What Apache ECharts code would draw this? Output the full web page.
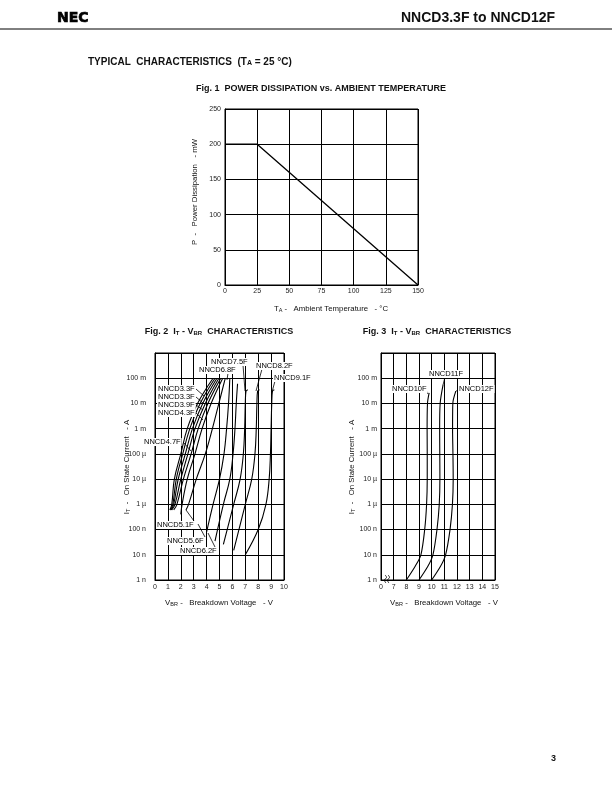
<!DOCTYPE html>
<html><head><meta charset="utf-8">
<script src="https://cdn.jsdelivr.net/npm/echarts@6/dist/echarts.min.js"></script>
<style>html,body{margin:0;padding:0;background:#fff}#c{width:612px;height:792px}</style>
</head><body><div id="c"></div>
<script>
// ---------- DATA ----------
// Fig.1 power derating
const fig1Temp  = [0, 25, 150];
const fig1Power = [200, 200, 0];
// current tick labels (1 n ... 1 A)
const currentTickLabels = ['1 n','10 n','100 n','1 \u00b5','10 \u00b5','100 \u00b5','1 m','10 m','100 m',''];
const fig3XTickLabels = ['0','7','8','9','10','11','12','13','14','15'];

// Fig.2 curves [V, A]
const nncd3_3F = [[1.15,6e-7],[1.3,1e-6],[1.5,1e-5],[2.0,1e-4],[2.5,1e-3],[3.3,1e-2],[4.5,1e-1]];
const nncd3_6F = [[1.2,6e-7],[1.38,1e-6],[1.65,1e-5],[2.15,1e-4],[2.7,1e-3],[3.5,1e-2],[4.65,1e-1]];
const nncd3_9F = [[1.25,6e-7],[1.45,1e-6],[1.8,1e-5],[2.35,1e-4],[2.9,1e-3],[3.7,1e-2],[4.8,1e-1]];
const nncd4_3F = [[1.3,6e-7],[1.55,1e-6],[2.0,1e-5],[2.55,1e-4],[3.1,1e-3],[3.9,1e-2],[4.95,1e-1]];
const nncd4_7F = [[1.45,6e-7],[1.7,1e-6],[2.2,1e-5],[2.8,1e-4],[3.35,1e-3],[4.1,1e-2],[5.1,1e-1]];
const nncd5_1F = [[2.0,4e-7],[2.1,1e-6],[2.5,1e-5],[3.1,1e-4],[3.65,1e-3],[4.35,1e-2],[5.25,1e-1]];
const nncd5_6F = [[2.4,6e-7],[2.6,1e-6],[3.2,1e-5],[3.9,1e-4],[4.45,1e-3],[4.95,1e-2],[5.45,1e-1]];
const nncd6_2F = [[4.0,8e-8],[4.5,1e-6],[5.0,1e-5],[5.35,1e-4],[5.55,1e-3],[5.7,1e-2],[5.8,1e-1]];
const nncd6_8F = [[4.65,3.5e-8],[5.3,1e-6],[5.8,1e-5],[6.05,1e-4],[6.2,1e-3],[6.3,1e-2],[6.4,6e-2]];
const nncd7_5F = [[5.3,2.6e-8],[6.1,1e-6],[6.6,1e-5],[6.85,1e-4],[6.95,1e-3],[7.0,1e-2],[7.05,3e-2],[7.2,3.5e-2]];
const nncd8_2F = [[6.1,1.5e-8],[7.0,1e-6],[7.5,1e-5],[7.75,1e-4],[7.85,1e-3],[7.9,1e-2],[7.95,3e-2],[8.1,3.5e-2]];
const nncd9_1F = [[7.0,1e-8],[8.0,1e-7],[8.6,1e-6],[8.85,1e-5],[8.95,1e-4],[9.0,1e-3],[9.05,1e-2],[9.1,3e-2],[9.25,3.5e-2]];
// Fig.3 curves [V, A]
const nncd10F = [[8.0,1e-9],[8.7,3.5e-9],[9.15,1e-8],[9.45,1e-7],[9.6,1e-6],[9.65,1e-5],[9.65,1e-4],[9.64,1e-3],[9.67,1e-2],[9.8,2.6e-2]];
const nncd11F = [[9.0,1e-9],[9.7,3.5e-9],[10.1,1e-8],[10.42,1e-7],[10.6,1e-6],[10.65,1e-5],[10.64,1e-4],[10.63,1e-3],[10.67,1e-2],[10.9,5.5e-2]];
const nncd12F = [[10.0,1e-9],[10.7,3.5e-9],[11.1,1e-8],[11.45,1e-7],[11.64,1e-6],[11.7,1e-5],[11.68,1e-4],[11.65,1e-3],[11.67,1e-2],[11.9,3e-2]];

const fig2Curves = {'NNCD3.3F':nncd3_3F,'NNCD3.6F':nncd3_6F,'NNCD3.9F':nncd3_9F,'NNCD4.3F':nncd4_3F,
  'NNCD4.7F':nncd4_7F,'NNCD5.1F':nncd5_1F,'NNCD5.6F':nncd5_6F,'NNCD6.2F':nncd6_2F,'NNCD6.8F':nncd6_8F,
  'NNCD7.5F':nncd7_5F,'NNCD8.2F':nncd8_2F,'NNCD9.1F':nncd9_1F};
const fig3Curves = {'NNCD10F':nncd10F,'NNCD11F':nncd11F,'NNCD12F':nncd12F};

// ---------- CHART ----------
const FONT = '"Liberation Sans", Arial, Helvetica, sans-serif';
const chart = echarts.init(document.getElementById('c'), null, {renderer:'canvas'});
const lab = (m) => ({fontSize:7, color:'#222', fontFamily:FONT, margin:m});
const split = {show:true, lineStyle:{color:'#000', width:1}};
const axLine = {show:true, lineStyle:{color:'#000', width:1}};
const logLabel = (v) => currentTickLabels[Math.round(Math.log10(v)) + 9] || '';

const series = [{type:'line', xAxisIndex:0, yAxisIndex:0, data:fig1Temp.map((t,i)=>[t,fig1Power[i]]),
  symbol:'none', lineStyle:{color:'#000', width:1.3}, z:3}];
Object.keys(fig2Curves).forEach(k => series.push({type:'line', name:k, xAxisIndex:1, yAxisIndex:1,
  data:fig2Curves[k], smooth:0.4, symbol:'none', lineStyle:{color:'#000', width:1.1}, z:3}));
Object.keys(fig3Curves).forEach(k => series.push({type:'line', name:k, xAxisIndex:2, yAxisIndex:2,
  data:fig3Curves[k], smooth:0.3, symbol:'none', lineStyle:{color:'#000', width:1.1}, z:3}));

const txt = (x, y, text, o) => Object.assign({type:'text', x, y, z:50, style:Object.assign({text, font:'7px '+FONT, fill:'#111',
  align:'left', verticalAlign:'middle', textAlign:'left', textVerticalAlign:'middle'}, o||{})});
const curveLab = (x, y, text) => txt(x, y, text, {font:'7.5px '+FONT, fill:'#000', backgroundColor:'#fff', padding:[0,1,0,1]});
const leader = (x1,y1,x2,y2) => ({type:'line', z:49, shape:{x1,y1,x2,y2}, style:{stroke:'#000', lineWidth:0.8}});
const sub = {a:{font:'7.8px '+FONT, fill:'#111'}, s:{font:'5.5px '+FONT, fill:'#111', padding:[3,0,0,0]}};
const rname = (x, y, text) => ({type:'text', x, y, rotation:Math.PI/2, z:50,
  style:{text, x:0, y:0, align:'center', verticalAlign:'middle', textAlign:'center', textVerticalAlign:'middle', rich:sub, font:'7.8px '+FONT}});
const hname = (x, y, text) => ({type:'text', x, y, z:50,
  style:{text, x:0, y:0, align:'center', verticalAlign:'middle', textAlign:'center', textVerticalAlign:'middle', rich:sub, font:'7.8px '+FONT}});
const btitle = (x, y, text) => ({type:'text', x, y, z:50, style:{text, x:0, y:0, align:'center', textAlign:'center', verticalAlign:'middle', textVerticalAlign:'middle',
    rich:{b:{font:'bold 9px '+FONT, fill:'#111'}, bs:{font:'bold 6px '+FONT, fill:'#111', padding:[3,0,0,0]}}}});

const graphic = [
  txt(57, 18, 'NEC', {font:'bold 14px "DejaVu Sans", '+FONT, fill:'#000', stroke:'#000', lineWidth:0.7}),
  txt(555, 18, 'NNCD3.3F to NNCD12F', {font:'bold 14px '+FONT, fill:'#111', align:'right', textAlign:'right'}),
  {type:'line', shape:{x1:0, y1:29, x2:612, y2:29}, style:{stroke:'#000', lineWidth:1}},
  {type:'text', x:88, y:62, z:50, style:{text:'{b|TYPICAL  CHARACTERISTICS  (T}{bs|A}{b| = 25 \u00b0C)}', x:0, y:0, verticalAlign:'middle', textVerticalAlign:'middle',
    rich:{b:{font:'bold 10px '+FONT, fill:'#111'}, bs:{font:'bold 7px '+FONT, fill:'#111', padding:[3,0,0,0]}}}},
  btitle(321, 89, '{b|Fig. 1  POWER DISSIPATION vs. AMBIENT TEMPERATURE}'),
  btitle(219, 332, '{b|Fig. 2  I}{bs|T}{b| - V}{bs|BR}{b|  CHARACTERISTICS}'),
  btitle(437, 332, '{b|Fig. 3  I}{bs|T}{b| - V}{bs|BR}{b|  CHARACTERISTICS}'),
  rname(195, 192, '{a|P  -   Power Dissipation   - mW}'),
  hname(331, 309, '{a|T}{s|A}{a| -   Ambient Temperature   - \u00b0C}'),
  rname(127, 467, '{a|I}{s|T}{a|  -   On State Current   - A}'),
  hname(219, 603, '{a|V}{s|BR}{a| -   Breakdown Voltage   - V}'),
  rname(352, 467, '{a|I}{s|T}{a|  -   On State Current   - A}'),
  hname(444, 603, '{a|V}{s|BR}{a| -   Breakdown Voltage   - V}'),
  txt(551, 759, '3', {font:'bold 9px '+FONT, fill:'#111'}),
  // fig 2 curve labels
  curveLab(157, 389, 'NNCD3.3F'), curveLab(157, 397, 'NNCD3.3F'), curveLab(157, 405, 'NNCD3.9F'), curveLab(157, 413, 'NNCD4.3F'),
  curveLab(143, 442, 'NNCD4.7F'), curveLab(156, 525, 'NNCD5.1F'), curveLab(166, 541, 'NNCD5.6F'), curveLab(179, 551, 'NNCD6.2F'),
  curveLab(198, 370, 'NNCD6.8F'), curveLab(210, 362, 'NNCD7.5F'), curveLab(255, 366, 'NNCD8.2F'), curveLab(273, 378, 'NNCD9.1F'),
  leader(196,389,204,396), leader(196,397,203,403), leader(196,405,203,410), leader(196,413,203,420),
  leader(184,443,191,451), leader(194,521,186,510), leader(205,537,198,524), leader(215,547,208,533),
  leader(228,373,227,380), leader(243,365,245,391), leader(262,369,256,391), leader(275,381,272,392),
  // fig 3 labels
  curveLab(391, 389, 'NNCD10F'), curveLab(428, 374, 'NNCD11F'), curveLab(458, 389, 'NNCD12F'),
  leader(426,390,428,394), leader(445,377,443,385), leader(459,389,455,392),
  // axis break
  {type:'polyline', z:51, shape:{points:[[385,575],[386.5,577.5],[384.5,580],[386,583]], smooth:0.5}, style:{stroke:'#000', lineWidth:0.8, fill:null}},
  {type:'polyline', z:51, shape:{points:[[388,575],[389.5,577.5],[387.5,580],[389,583]], smooth:0.5}, style:{stroke:'#000', lineWidth:0.8, fill:null}}
];

chart.setOption({
  animation:false,
  backgroundColor:'#fff',
  grid:[
    {left:225, top:109, width:193, height:176, show:true, borderColor:'#000', borderWidth:1},
    {left:155, top:353, width:129, height:227, show:true, borderColor:'#000', borderWidth:1},
    {left:381, top:353, width:114, height:227, show:true, borderColor:'#000', borderWidth:1}
  ],
  xAxis:[
    {gridIndex:0, type:'value', min:0, max:150, interval:25, axisLabel:lab(3), axisLine:axLine, axisTick:{show:false}, splitLine:split},
    {gridIndex:1, type:'value', min:0, max:10, interval:1, axisLabel:lab(4), axisLine:axLine, axisTick:{show:false}, splitLine:split},
    {gridIndex:2, type:'value', min:6, max:15, interval:1, axisLabel:Object.assign(lab(4), {formatter:(v)=>fig3XTickLabels[Math.round(v)-6]}), axisLine:axLine, axisTick:{show:false}, splitLine:split}
  ],
  yAxis:[
    {gridIndex:0, type:'value', min:0, max:250, interval:50, axisLabel:lab(4), axisLine:axLine, axisTick:{show:false}, splitLine:split},
    {gridIndex:1, type:'log', logBase:10, min:1e-9, max:1, interval:1, axisLabel:Object.assign(lab(9), {formatter:logLabel}), axisLine:axLine, axisTick:{show:false}, splitLine:split, minorTick:{show:false}},
    {gridIndex:2, type:'log', logBase:10, min:1e-9, max:1, interval:1, axisLabel:Object.assign(lab(4), {formatter:logLabel}), axisLine:axLine, axisTick:{show:false}, splitLine:split, minorTick:{show:false}}
  ],
  series,
  graphic
});
</script></body></html>
